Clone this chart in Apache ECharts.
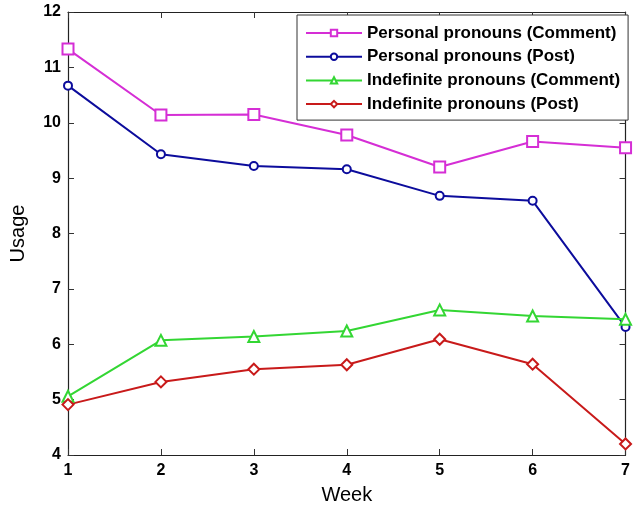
<!DOCTYPE html>
<html><head><meta charset="utf-8">
<script src="https://cdn.jsdelivr.net/npm/echarts@6/dist/echarts.min.js"></script>
<style>html,body{margin:0;padding:0;background:#fff}#c{width:633px;height:510px}</style>
</head><body><div id="c"></div>
<script>
const weeks = [1, 2, 3, 4, 5, 6, 7];
const personalComment = [11.33, 10.14, 10.15, 9.78, 9.20, 9.66, 9.55];
const personalPost = [10.67, 9.43, 9.22, 9.16, 8.68, 8.59, 6.31];
const indefiniteComment = [5.06, 6.07, 6.14, 6.24, 6.62, 6.51, 6.45];
const indefinitePost = [4.91, 5.32, 5.55, 5.63, 6.09, 5.64, 4.20];
const seriesNames = ['Personal pronouns (Comment)', 'Personal pronouns (Post)', 'Indefinite pronouns (Comment)', 'Indefinite pronouns (Post)'];

const chart = echarts.init(document.getElementById('c'));
const font = 'Liberation Sans, Arial, sans-serif';
function mk(name, data, color, symbol, size) {
  return {
    name, type: 'line', data: weeks.map((w, i) => [w, data[i]]),
    symbol, symbolSize: size,
    lineStyle: { color, width: 2 },
    itemStyle: { color, borderColor: color, borderWidth: 1.5 },
    emphasis: { disabled: true }, animation: false
  };
}
const axisLine = { show: true, lineStyle: { color: '#222', width: 1.2 } };
const tick = { show: true, inside: true, length: 6, lineStyle: { color: '#333' } };
chart.setOption({
  animation: false,
  grid: { left: 66, right: 5, top: 12, bottom: 54 },
  legend: {
    data: seriesNames, orient: 'vertical', left: 297, top: 15,
    itemWidth: 56, itemHeight: 8, itemGap: 3.7,
    textStyle: { fontFamily: font, fontSize: 17, fontWeight: 'bold', color: '#000', lineHeight: 20 },
    backgroundColor: '#fff', borderColor: '#333', borderWidth: 1,
    padding: [8, 8, 6, 8], selectedMode: false
  },
  xAxis: [{
    type: 'value', min: 1, max: 7, interval: 1,
    name: 'Week', nameLocation: 'middle', nameGap: 30,
    nameTextStyle: { fontFamily: font, fontSize: 20, color: '#000' },
    axisLine, axisTick: tick, splitLine: { show: false },
    axisLabel: { fontFamily: font, fontSize: 16, fontWeight: 'bold', color: '#000', margin: 8 }
  }, {
    type: 'value', position: 'top', min: 1, max: 7, interval: 1,
    axisLine, axisTick: tick, splitLine: { show: false }, axisLabel: { show: false }
  }],
  yAxis: [{
    type: 'value', min: 4, max: 12, interval: 1,
    name: 'Usage', nameLocation: 'middle', nameGap: 40,
    nameTextStyle: { fontFamily: font, fontSize: 20, color: '#000' },
    axisLine, axisTick: tick, splitLine: { show: false },
    axisLabel: { fontFamily: font, fontSize: 16, fontWeight: 'bold', color: '#000', margin: 7 }
  }, {
    type: 'value', position: 'right', min: 4, max: 12, interval: 1,
    axisLine, axisTick: tick, splitLine: { show: false }, axisLabel: { show: false }
  }],
  series: [
    mk(seriesNames[0], personalComment, '#d52ed5', 'emptyRect', 11),
    mk(seriesNames[1], personalPost, '#0c0c9c', 'emptyCircle', 8),
    mk(seriesNames[2], indefiniteComment, '#33d633', 'emptyTriangle', 11),
    mk(seriesNames[3], indefinitePost, '#c81a1a', 'emptyDiamond', 11)
  ]
});
</script></body></html>
